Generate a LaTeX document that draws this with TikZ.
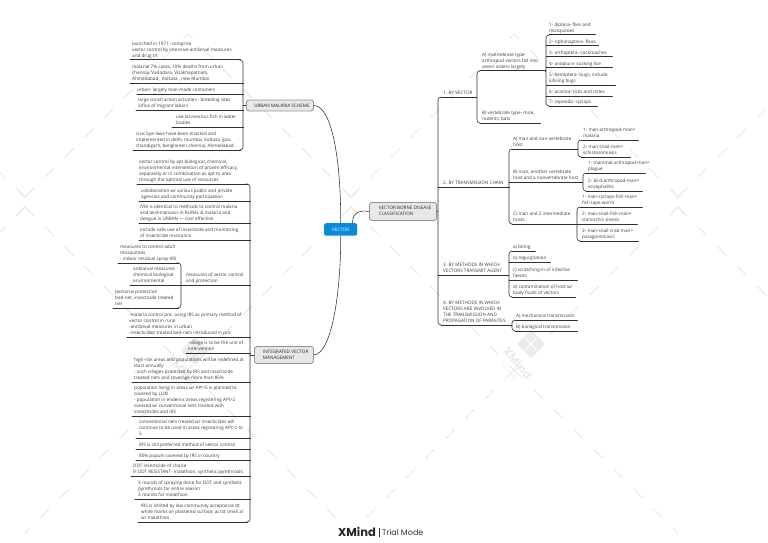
\documentclass[tikz,border=0pt]{standalone}
\usepackage{fontspec}
\setmainfont{Open Sans}
\newfontfamily\wmfont{Poppins}
\definecolor{ink}{HTML}{303030}
\definecolor{txt}{HTML}{3A3A3A}
\definecolor{wm}{HTML}{EBEBEB}
\definecolor{vblue}{HTML}{0A8ADB}
\tikzset{
  tpc/.style={inner xsep=0pt,inner ysep=0pt,text=txt,font=\fontsize{4.6}{6.2}\selectfont,anchor=south west},
  ul/.style={draw=ink,line width=1pt,line cap=round},
  conn/.style={draw=ink,line width=.6pt,rounded corners=3pt},
  curve/.style={draw=ink,line width=.55pt},
  graybox/.style={draw=gray!85,line width=.85pt,fill=gray!18,rounded corners=2.5pt,inner sep=0pt,align=left,text=black!85,font=\fontsize{4.6}{6.2}\selectfont,anchor=north west},
  wmline/.style={draw=wm,line width=1.2pt,dash pattern=on 13pt off 15pt},
}
% name, x0, x1, y of rule, x of text, text
\newcommand\tp[6]{%
  \pgfmathsetlengthmacro\mywd{(#3-#2)*1pt}%
  \pgfmathsetlengthmacro\myin{(#5-#2)*1pt}%
  \node[tpc] (#1) at (#2,#4) {\makebox[\mywd][l]{\hspace*{\myin}\begin{tabular}{@{}l@{}}#6\end{tabular}}};
  \draw[ul] (#1.south west) -- (#1.south east);
}
% children to the left of the spine: x, parent point, first, last, middles
\newcommand\brL[5]{%
  \coordinate (sp) at (#1,0);
  \draw[conn] (#3.south east) -- (sp |- #3.south east) -- (sp |- #4.south east) -- (#4.south east);
  \draw[conn] (#2) -- (sp |- #2);
  \foreach \m in {#5} {\draw[conn] (\m.south east) -- (sp |- \m.south east);}
}
% children to the right of the spine
\newcommand\brR[5]{%
  \coordinate (sp) at (#1,0);
  \draw[conn] (#3.south west) -- (sp |- #3.south west) -- (sp |- #4.south west) -- (#4.south west);
  \draw[conn] (#2) -- (sp |- #2);
  \foreach \m in {#5} {\draw[conn] (\m.south west) -- (sp |- \m.south west);}
}
\newcommand\wmlogo[2]{%
  \begin{scope}[shift={(#1,#2)}]
    \node[rotate=45,fill=wm,rounded corners=2pt,minimum size=20pt,inner sep=0pt] at (13,-5) {};
    \draw[white,line width=.8pt] (7,-12) -- (19,2) (19,-12) -- (7,2);
    \node[rotate=-50,text=wm,font=\wmfont\fontsize{11.5}{12}\selectfont\bfseries,inner sep=0pt] at (0,14) {XMind};
    \node[rotate=-50,text=wm,font=\wmfont\fontsize{4.5}{5}\selectfont,inner sep=0pt] at (-9,22) {Trial Mode};
  \end{scope}
}
\begin{document}
\begin{tikzpicture}[x=1pt,y=-1pt]
\useasboundingbox (0,0) rectangle (768,543);
% watermark
\foreach \ax/\ay/\bx/\by in {351/197/188/34, 351/197/514/34, 25/197/188/34, 678/197/514/34, 678/197/768/107,
   25/207/188/370, 188/370/351/533, 351/207/514/370, 514/370/678/533, 678/207/768/297,
   351/207/188/370, 188/370/25/533, 678/207/514/370, 514/370/351/533,
   25/197/0/172, 25/207/0/232}
  {\draw[wmline] (\ax,\ay) -- (\bx,\by);}
\foreach \hx in {25,351,678} {
  \draw[wm,line width=1.2pt] (\hx-7,190) -- (\hx,197) -- (\hx+7,190);
  \draw[wm,line width=1.2pt] (\hx-7,214) -- (\hx,207) -- (\hx+7,214);
}
\wmlogo{518}{349}
\wmlogo{182}{356}
% centre
\node[graybox,minimum width=67pt,minimum height=11pt] (urban) at (246,99.5) {\hspace*{4pt}URBAN MALARIA SCHEME};
\node[graybox,minimum width=59pt,minimum height=17pt] (ivm) at (254,346) {\hspace*{3.5pt}\begin{tabular}{@{}l@{}}INTEGRATED VECTOR\\MANAGEMENT\end{tabular}};
\node[graybox,minimum width=67pt,minimum height=18pt] (vb) at (369,202) {\hspace*{4.5pt}\begin{tabular}{@{}l@{}}VECTOR BORNE DISEASE\\CLASSIFICATION\end{tabular}};
\node[fill=vblue,rounded corners=2pt,text=white,minimum width=33pt,minimum height=12.5pt,inner sep=0pt,font=\fontsize{4.6}{6}\selectfont,anchor=north west] (v) at (324,223) {VECTOR};
\draw[curve] (urban.east) .. controls (332,106) and (341,160) .. (v.north);
\draw[curve] (ivm.east) .. controls (332,354) and (341,290) .. (v.south);
\draw[curve] (v.north east) ++(-5,0) .. controls (353,213) and (358,210) .. (vb.west);
% urban malaria scheme
\tp{u1}{130}{240}{60}{132}{launched in 1971 -comprise\\vector control by intensive antilarval measures\\and drug t/t}
\tp{u2}{130}{243}{83}{132}{malarial 7\% cases, 10\% deaths from urban\\chennai, Vadodara, Visakhapatnam,\\Ahmedabad , Kolkata , new Mumbai}
\tp{u3}{137}{243}{94}{137}{urban- largely man-made containers}
\tp{u4}{136}{243}{110}{138}{large construction activities - breeding sites\\influx of migrant labors}
\tp{u5}{172}{243}{127}{176}{use larvivorous fish in water\\bodies}
\tp{u6}{133}{240}{150}{136}{civic bye-laws have been enacted and\\implemented in delhi, mumbai, kolkata, goa,\\chandigarh, bangloreen chennai, Ahmedabad}
\brL{243}{urban.west}{u1}{u6}{u2,u3,u4,u5}
% integrated vector management
\tp{a}{137}{247}{184}{139}{vector control by apt biological, chemical,\\environmental intervention of proven efficacy,\\separately or in combination as apt to area\\through the optimal use of resources}
\tp{b}{139}{250}{201}{141}{collaboration w/ various public and private\\agencies and community participation}
\tp{c}{139}{250}{223}{140}{IVM is identical to methods to control malaria\\and leishmaniasis in RURAL \& malaria and\\dengue in URBAN --- cost effective}
\tp{d}{139}{250}{240}{140}{include safe use of insecticide and monitoring\\of insecticide resistance}
\tp{mv}{181}{250}{285}{186}{measures of vector control\\and protection}
\tp{f}{127}{250}{337}{129}{-malaria control pro. using IRS as primary method of\\vector control in rural\\-antilarval measures in urban\\-insecticides treated bed-nets introduced in pro}
\tp{g}{186}{250}{353}{188}{-village is to be the unit of\\intervention}
\tp{h}{132}{250}{382}{134}{high-risk areas and populations will be redefined at\\least annually\\- such villages protected by IRS and insecticide\\treated nets and coverage more than 85\%}
\tp{i}{132}{250}{416}{134}{population living in areas w/ API>5 is planned to\\covered by LLIN\\- population in endemic areas registering API>2\\covered w/ conventional nets treated with\\insecticides and IRS}
\tp{j}{136}{250}{438}{139}{conventional nets treated w/ insecticides will\\continue to be used in areas registering API>2 to\\5}
\tp{k}{136}{250}{449}{139}{IRS is still preferred method of vector control}
\tp{l}{136}{250}{460}{139}{80\% populn covered by IRS in country}
\tp{m}{131}{250}{476}{133}{DDT insecticide of choice\\IF DDT RESISTANT- malathion, synthetic pyrethroids}
\tp{n}{135}{250}{499}{138}{3 rounds of spraying done for DDT and synthetic\\pyrethroids for entire season\\3 rounds for malathion}
\tp{o}{138}{247}{522}{141}{IRS is limited by low community acceptance dt\\white marks on plastered surface, acrid smell a/\\w/ malathion}
\brL{250}{ivm.west}{a}{o}{b,c,d,mv,f,g,h,i,j,k,l,m,n}
\tp{e}{118}{178}{263}{120}{measures to control adult\\mosquitoes\\- indoor residual spray-IRS}
\tp{anti}{130}{181}{285}{133}{antilarval measures\\chemical biological\\environmental}
\tp{pers}{113}{178}{308}{115}{personal protection\\bed-net, insecticide treated\\net}
\brL{181}{mv.south west}{e}{pers}{anti}
% right side
\tp{n1}{441}{475}{97}{443}{1. BY VECTOR}
\tp{n2}{438}{509}{187}{443}{2. BY TRANSMISSION CHAIN}
\tp{n3}{438}{508}{275}{443}{3. BY METHODS IN WHICH\\VECTORS TRANSMIT AGENT}
\tp{n4}{441}{510}{325}{443}{4. BY METHODS IN WHICH\\VECTORS ARE INVOLVED IN\\THE TRANSMISSION AND\\PROPAGATION OF PARASITES}
\brR{438}{vb.east}{n1}{n4}{n2,n3}
\tp{va}{480}{545}{71}{482}{A) invertebrate type-\\arthropod vectors fall into\\seven orders largely}
\tp{vb2}{480}{540}{123}{482}{B) vertebrate type- mice,\\rodents, bats}
\brR{477}{n1.south east}{va}{vb2}{}
\tp{o1}{549}{595}{35}{549}{1- diptera- flies and\\mosquitoes}
\tp{o2}{546}{598}{46}{549}{2- siphonaptera- fleas}
\tp{o3}{546}{612}{57}{549}{3- orthoptera- cockroaches}
\tp{o4}{546}{612}{68}{549}{4- anoplura- sucking lice}
\tp{o5}{546}{615}{85}{549}{5- hemiptera- bugs, include\\kibsing bugs}
\tp{o6}{546}{612}{96}{549}{6- acarina- ticks and mites}
\tp{o7}{549}{597}{106}{549}{7- copeoda- cyclops}
\brR{546}{va.south east}{o1}{o7}{o2,o3,o4,o5,o6}
\tp{ta}{512}{577}{149}{513}{A) man and non-vertebrate\\host}
\tp{tb}{509}{582}{182}{513}{B) man, another vertebrate\\host and a nonvertebrate host}
\tp{tc}{512}{576}{224}{513}{C) man and 2 intermediate\\hosts}
\brR{509}{n2.south east}{ta}{tc}{tb}
\tp{ta1}{581}{638}{140}{583}{1- man-arthropod-man=\\malaria}
\tp{ta2}{581}{630}{157}{583}{2- man-snail-man=\\schistosomiasis}
\brR{578}{ta.south east}{ta1}{ta2}{}
\tp{tb1}{586}{645}{173}{588}{1- mammal-arthropod-man=\\plague}
\tp{tb2}{586}{642}{191}{588}{2- bird-arthropod-man=\\encephalitis}
\brR{583}{tb.south east}{tb1}{tb2}{}
\tp{tc1}{580}{642}{207}{582}{1- man-cyclops-fish-man=\\fish tape worm}
\tp{tc2}{577}{637}{224}{582}{2- man-snail-fish-man=\\clonorchis sinesis}
\tp{tc3}{580}{638}{241}{582}{3- man-snail-crab-man=\\paragonimiasis}
\brR{577}{tc.south east}{tc1}{tc3}{tc2}
\tp{ma}{512}{535}{251}{513}{a) biting}
\tp{mb}{509}{550}{262}{513}{b) regurgitation}
\tp{mc}{509}{577}{280}{513}{c) scratching-in of infective\\faeces}
\tp{md}{512}{575}{297}{513}{d) contamination of host w/\\body fluids of vectors}
\brR{509}{n3.south east}{ma}{md}{mb,mc}
\tp{pa}{515}{577}{320}{516}{A) mechanical transmission}
\tp{pb}{515}{577}{331}{516}{B) biological transmission}
\brR{512}{n4.south east}{pa}{pb}{}
% trial mark
\node[anchor=west,inner sep=0pt,text=black!85,font=\wmfont\fontsize{11.5}{12}\selectfont\bfseries] (xm) at (338,532) {XMind};
\node[anchor=west,inner sep=0pt,text=black!80,font=\wmfont\fontsize{8}{10}\selectfont] (tm) at (382,532.5) {Trial Mode};
\draw[black!80,line width=.8pt] (379,527.5) -- (379,537);
\end{tikzpicture}
\end{document}
